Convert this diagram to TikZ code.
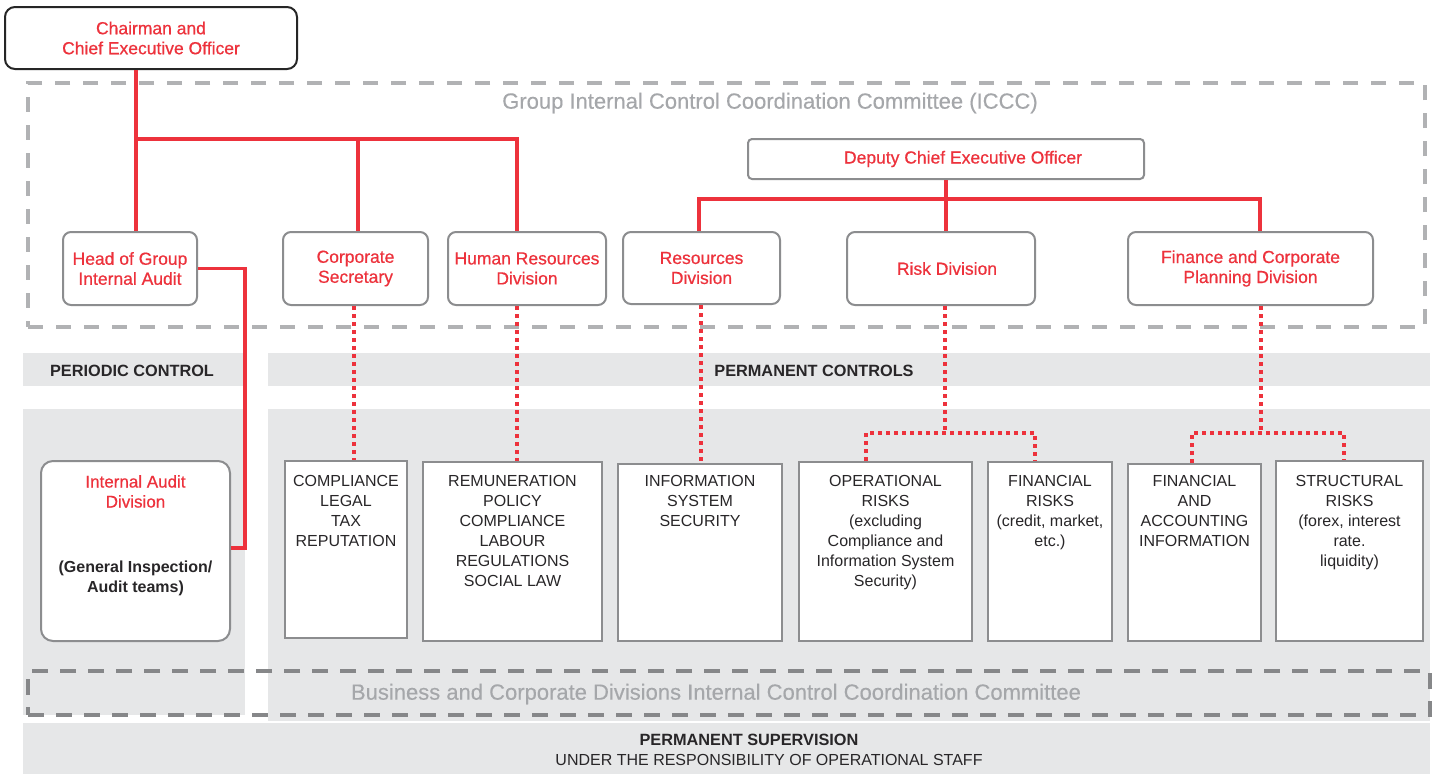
\documentclass[tikz,border=0pt]{standalone}
\usepackage{fontspec}
\setmainfont{Liberation Sans}
\newfontfamily\medfont[FakeBold=0.6]{Liberation Sans}
\newfontfamily\semifont[FakeBold=0.3]{Liberation Sans}
\definecolor{cred}{RGB}{237,50,60}
\definecolor{bandgray}{RGB}{230,231,232}
\definecolor{boxgray}{RGB}{140,141,143}
\definecolor{dashlight}{RGB}{177,178,180}
\definecolor{dashdark}{RGB}{134,135,137}
\definecolor{titlegray}{RGB}{165,167,170}
\definecolor{txt}{RGB}{40,38,40}
\tikzset{
  redbox/.style={draw=boxgray, line width=2, rounded corners=8, fill=white, text=cred, align=center,
    font=\medfont\fontsize{17.5}{20}\selectfont, inner sep=0},
  whitebox/.style={draw=boxgray, line width=2, fill=white, inner sep=0},
  boxtext/.style={text=txt, align=center, font=\fontsize{16}{20}\selectfont, inner sep=0, anchor=north},
  band/.style={fill=bandgray, draw=none, inner sep=0},
  bandtext/.style={text=txt, font=\bfseries\fontsize{16.3}{20}\selectfont, inner sep=0},
  titletext/.style={text=titlegray, font=\semifont\fontsize{22}{24}\selectfont, inner sep=0},
  redline/.style={draw=cred, line width=3.5},
  reddots/.style={draw=cred, line width=4, dash pattern=on 4 off 4},
}
\begin{document}
\begin{tikzpicture}[x=1pt,y=-1pt]
\useasboundingbox[fill=white] (0,0) rectangle (1434,774);

% grey background bands and areas
\node[band, minimum width=222, minimum height=33] (pcband) at (134,369.5) {};
\node[bandtext] (pctext) at (132,371) {PERIODIC CONTROL};
\node[band, minimum width=1162, minimum height=33] (pmband) at (849,369.5) {};
\node[bandtext] (pmtext) at (814,371) {PERMANENT CONTROLS};
\node[band, minimum width=222, minimum height=306] (leftarea) at (134,562) {};
\node[band, minimum width=1162, minimum height=312] (rightarea) at (849,565) {};
\node[band, minimum width=1407, minimum height=51] (supband) at (726.5,748.5) {};
\node[bandtext] (suptext) at (749,740) {PERMANENT SUPERVISION};
\node[text=txt, font=\fontsize{16}{20}\selectfont, inner sep=0] (suptext2) at (769,760) {UNDER THE RESPONSIBILITY OF OPERATIONAL STAFF};

% ICCC dashed frame
\node[draw=dashlight, line width=4, dash pattern=on 15 off 13, minimum width=1397, minimum height=244, inner sep=0] (iccc) at (726.5,205) {};
\node[titletext] (iccctitle) at (770,103) {Group Internal Control Coordination Committee (ICCC)};

% Business dashed frame
\node[draw=dashdark, line width=3.5, dash pattern=on 16 off 12, minimum width=1402, minimum height=44, inner sep=0] (bcd) at (729,693) {};
\node[titletext] (bcdtitle) at (716,694) {Business and Corporate Divisions Internal Control Coordination Committee};

% top level
\node[draw=black!85, line width=2, rounded corners=10, fill=white, text=cred, align=center,
  font=\medfont\fontsize{17.5}{20}\selectfont, minimum width=292, minimum height=62, inner sep=0] (ceo) at (151,38)
  {Chairman and\\Chief Executive Officer};

\node[redbox, minimum width=134, minimum height=73] (hga) at (130,268.5) {Head of Group\\Internal Audit};
\node[redbox, minimum width=145, minimum height=73] (cs) at (355.5,268.5) {Corporate\\Secretary};
\node[redbox, minimum width=158, minimum height=73] (hr) at (527,268.5) {Human Resources\\Division};
\node[redbox, minimum width=157, minimum height=72] (res) at (701.5,268) {Resources\\Division};
\node[redbox, minimum width=188, minimum height=73] (risk) at (941,268.5) {\hspace*{12pt}Risk Division};
\node[redbox, minimum width=245, minimum height=73] (fin) at (1250.5,268.5) {Finance and Corporate\\Planning Division};
\node[redbox, rounded corners=4, minimum width=396, minimum height=40] (dceo) at (946,159) {\hspace*{34pt}Deputy Chief Executive Officer};

% internal audit division
\node[whitebox, rounded corners=12, minimum width=189, minimum height=180] (iad) at (135.5,551) {};
\node[boxtext, text=cred, font=\medfont\fontsize{17}{20}\selectfont] (iadt1) at (135.5,475) {Internal Audit\\Division};
\node[boxtext, font=\bfseries\fontsize{16}{20}\selectfont] (iadt2) at (135.5,561) {(General Inspection/\\Audit teams)};

% permanent control boxes
\node[whitebox, minimum width=122, minimum height=177] (comp) at (346,549.5) {};
\node[boxtext] (compt) at (346,475) {COMPLIANCE\\LEGAL\\TAX\\REPUTATION};
\node[whitebox, minimum width=179, minimum height=179] (rem) at (512.5,551.5) {};
\node[boxtext] (remt) at (512.5,475) {REMUNERATION\\POLICY\\COMPLIANCE\\LABOUR\\REGULATIONS\\SOCIAL LAW};
\node[whitebox, minimum width=164, minimum height=177] (iss) at (700,552.5) {};
\node[boxtext] (isst) at (700,475) {INFORMATION\\SYSTEM\\SECURITY};
\node[whitebox, minimum width=173, minimum height=179] (ops) at (885.5,551.5) {};
\node[boxtext] (opst) at (885.5,475) {OPERATIONAL\\RISKS\\(excluding\\Compliance and\\Information System\\Security)};
\node[whitebox, minimum width=124, minimum height=179] (finr) at (1050,551.5) {};
\node[boxtext] (finrt) at (1050,475) {FINANCIAL\\RISKS\\(credit, market,\\etc.)};
\node[whitebox, minimum width=133, minimum height=177] (fa) at (1194.5,552.5) {};
\node[boxtext] (fat) at (1194.5,475) {FINANCIAL\\AND\\ACCOUNTING\\INFORMATION};
\node[whitebox, minimum width=147, minimum height=180] (str) at (1349.5,551) {};
\node[boxtext] (strt) at (1349.5,475) {STRUCTURAL\\RISKS\\(forex, interest\\rate.\\liquidity)};

% red solid tree
\coordinate (j1) at (136,139);
\coordinate (j2) at (358,139);
\coordinate (j3) at (517,139);
\draw[redline] (136,0 |- ceo.south) -- (136,0 |- hga.north);
\draw[redline] (j1) -- (j3) -- (517,0 |- hr.north);
\draw[redline] (j2) -- (358,0 |- cs.north);

\coordinate (d1) at (699,199);
\coordinate (d2) at (946,199);
\coordinate (d3) at (1260,199);
\draw[redline] (dceo.south) -- (946,0 |- risk.north);
\draw[redline] (699,0 |- res.north) -- (d1) -- (d3) -- (1260,0 |- fin.north);

\coordinate (a1) at (245,268.5);
\coordinate (a2) at (245,548);
\draw[redline] (hga.east) -- (a1) -- (a2) -- (iad.east |- a2);

% red dotted links
\draw[reddots] (354,0 |- cs.south) -- (354,0 |- comp.north);
\draw[reddots] (517,0 |- hr.south) -- (517,0 |- rem.north);
\draw[reddots] (701,0 |- res.south) -- (701,0 |- iss.north);
\coordinate (r1) at (945,433);
\draw[reddots] (945,0 |- risk.south) -- (r1);
\draw[reddots] (866,0 |- ops.north) -- (866,433) -- (1035,433) -- (1035,0 |- finr.north);
\coordinate (f1) at (1261,433);
\draw[reddots] (1261,0 |- fin.south) -- (f1);
\draw[reddots] (1192,0 |- fa.north) -- (1192,433) -- (1344,433) -- (1344,0 |- str.north);
\end{tikzpicture}
\end{document}
